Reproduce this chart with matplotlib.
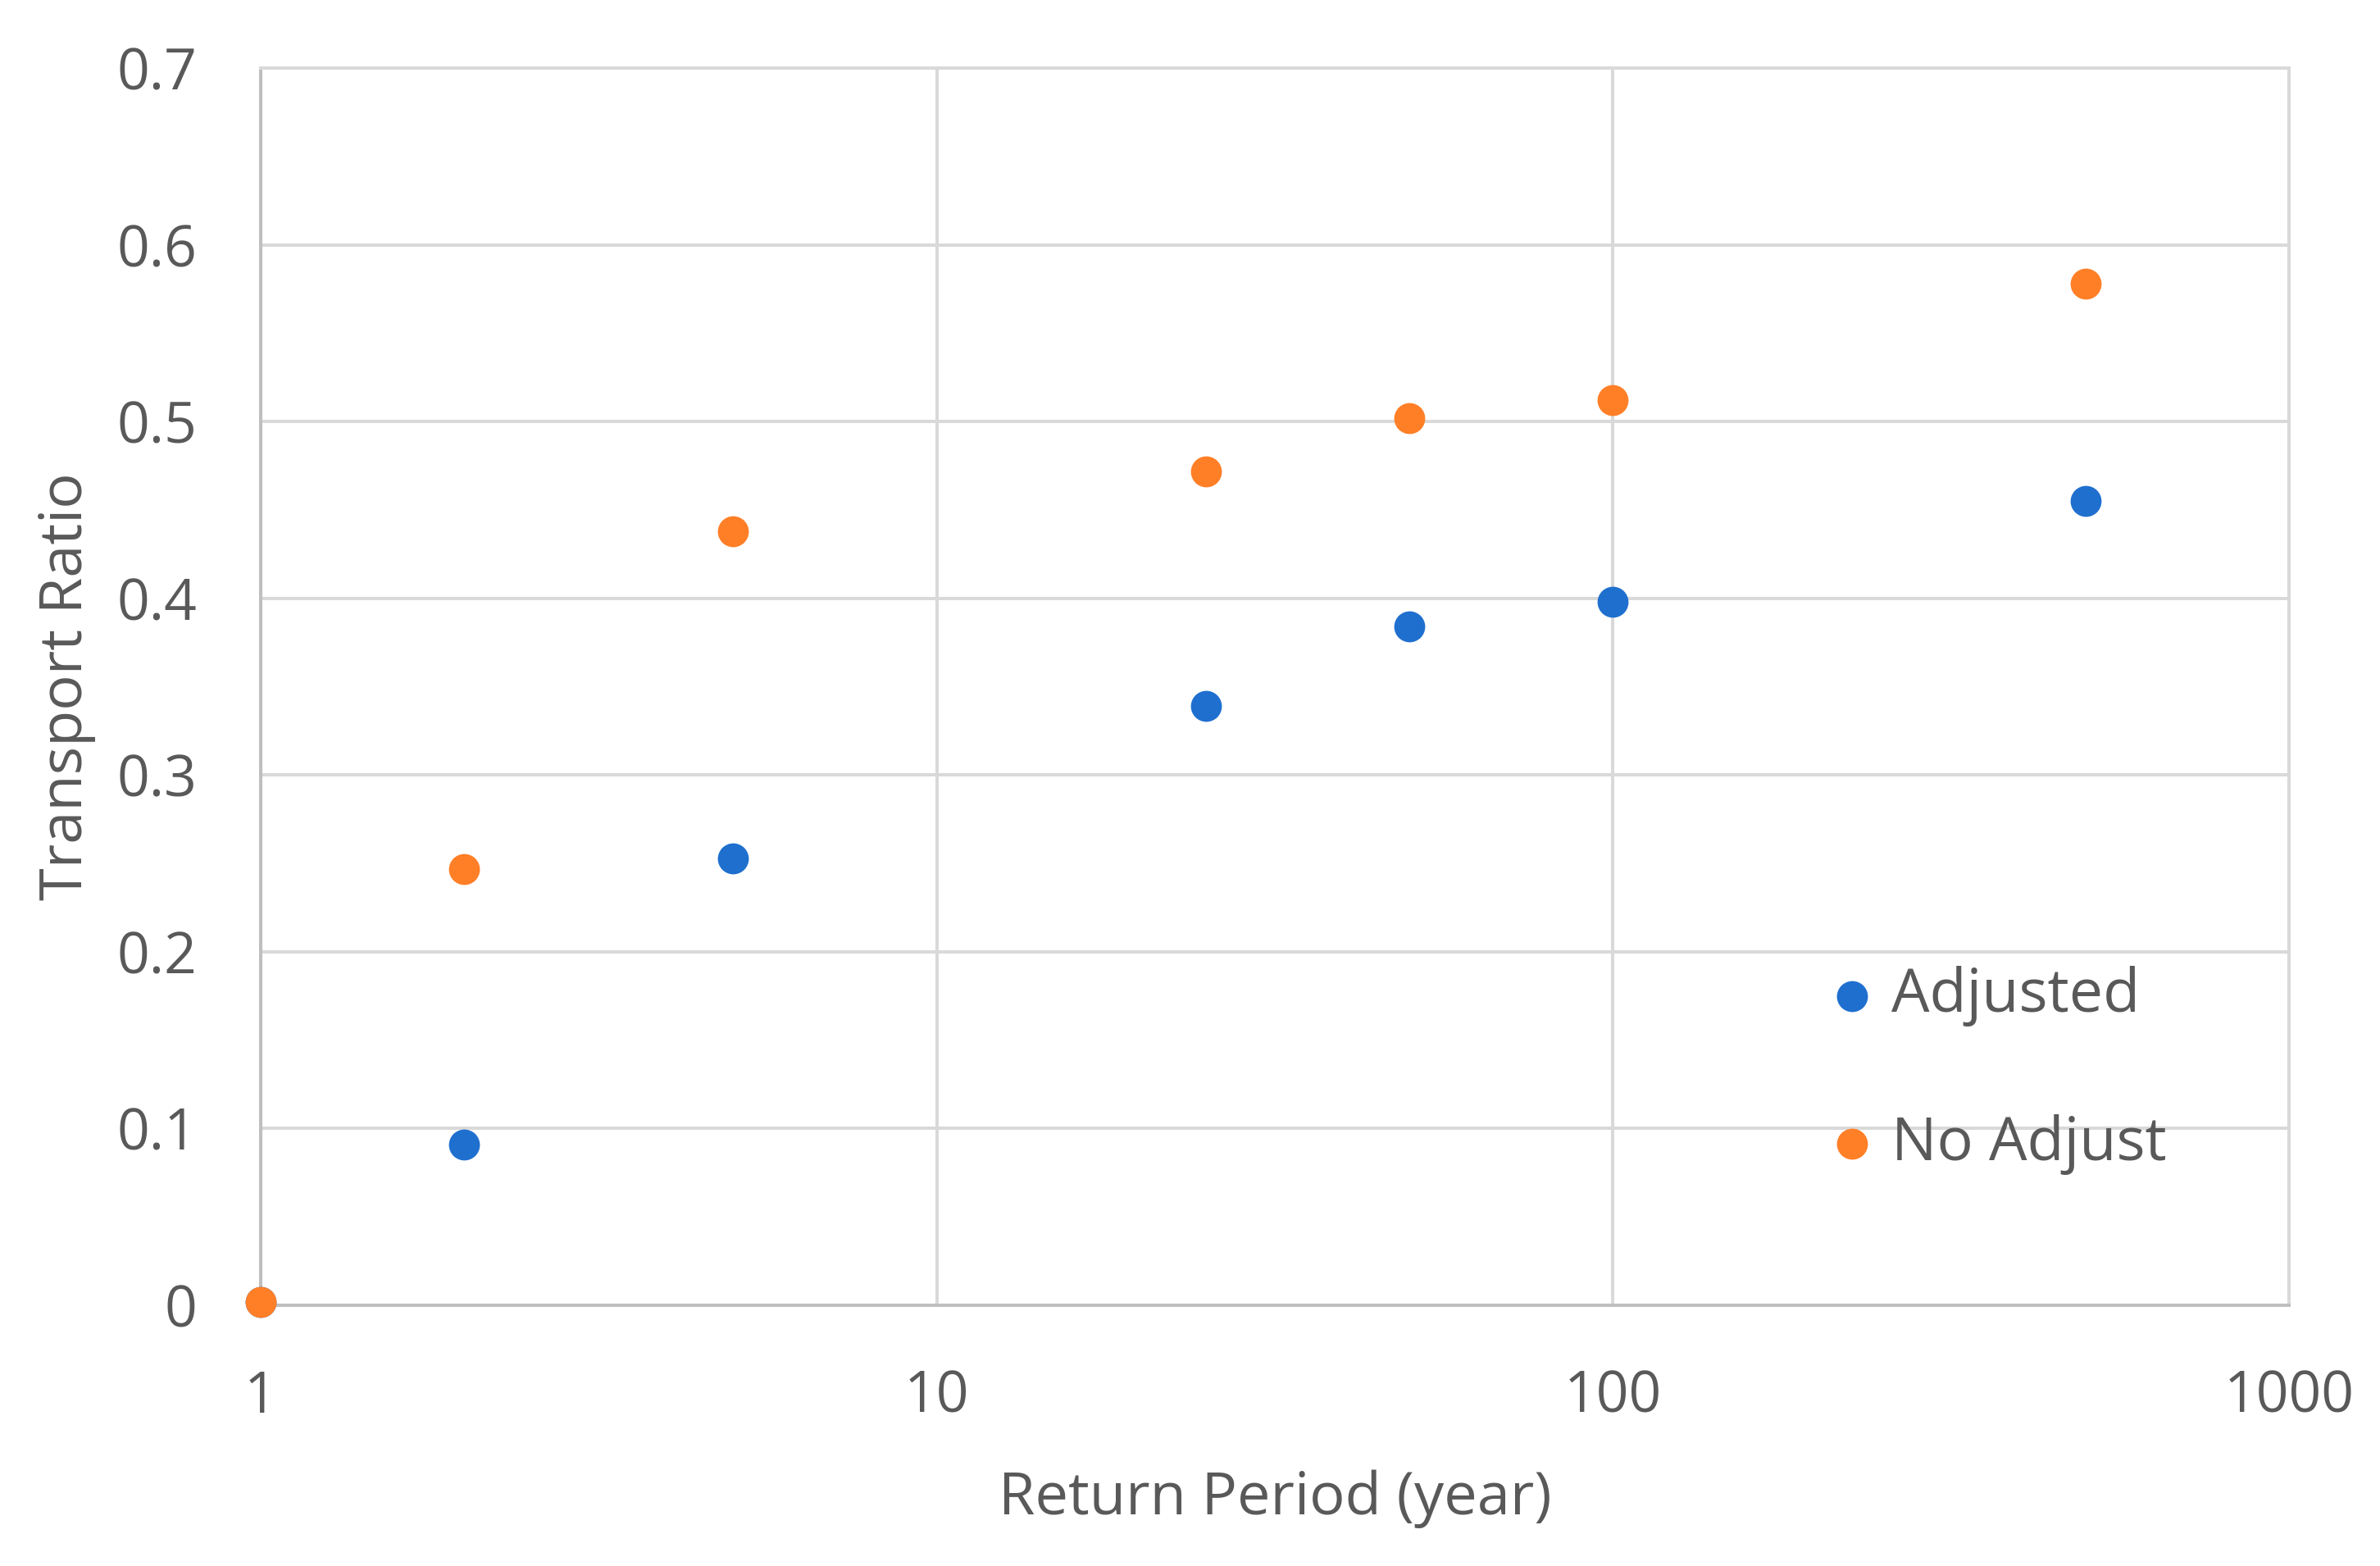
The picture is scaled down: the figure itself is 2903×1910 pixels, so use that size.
import matplotlib
matplotlib.use("Agg")
import matplotlib.pyplot as plt
from matplotlib.ticker import FixedLocator, FixedFormatter

plt.rcParams['font.family'] = ['Open Sans', 'DejaVu Sans']

# data
return_period = [1, 2, 5, 25, 50, 100, 500]
adjusted = [0.002, 0.091, 0.253, 0.339, 0.384, 0.398, 0.455]
no_adjust = [0.002, 0.247, 0.438, 0.472, 0.502, 0.512, 0.578]

x_ticks = [1, 10, 100, 1000]
x_tick_labels = ['1', '10', '100', '1000']
y_ticks = [0, 0.1, 0.2, 0.3, 0.4, 0.5, 0.6, 0.7]
y_tick_labels = ['0', '0.1', '0.2', '0.3', '0.4', '0.5', '0.6', '0.7']

text_color = '#595959'
grid_color = '#d9d9d9'
blue = '#1f6fcf'
orange = '#ff7f27'

fig = plt.figure(figsize=(29.03, 19.10), dpi=100)
ax = fig.add_axes([0.1095, 0.1665, 0.8523, 0.79])

ax.scatter(return_period, adjusted, s=740, color=blue, label='Adjusted',
           zorder=3, clip_on=False, linewidths=0)
ax.scatter(return_period, no_adjust, s=740, color=orange, label='No Adjust',
           zorder=4, clip_on=False, linewidths=0)

ax.set_xscale('log')
ax.set_xlim(1, 1000)
ax.set_ylim(0, 0.7)
ax.xaxis.set_major_locator(FixedLocator(x_ticks))
ax.xaxis.set_major_formatter(FixedFormatter(x_tick_labels))
ax.xaxis.set_minor_locator(FixedLocator([]))
ax.yaxis.set_major_locator(FixedLocator(y_ticks))
ax.yaxis.set_major_formatter(FixedFormatter(y_tick_labels))

ax.grid(True, color=grid_color, linewidth=2.9, zorder=0)
ax.set_axisbelow(True)
for side in ['top', 'right']:
    ax.spines[side].set_color(grid_color)
    ax.spines[side].set_linewidth(2.9)
for side in ['left', 'bottom']:
    ax.spines[side].set_color('#bfbfbf')
    ax.spines[side].set_linewidth(2.9)

ax.tick_params(axis='both', length=0, labelsize=50, labelcolor=text_color)
ax.tick_params(axis='y', pad=56)
ax.tick_params(axis='x', pad=56)

ax.set_xlabel('Return Period (year)', fontsize=52, color=text_color, labelpad=38)
ax.set_ylabel('Transport Ratio', fontsize=52, color=text_color, labelpad=18)

leg = ax.legend(loc='center left', bbox_to_anchor=(0.746, 0.19), frameon=False,
                fontsize=53, labelspacing=1.45, handlelength=0.8,
                handletextpad=0.25, markerscale=1.0, labelcolor=text_color)

fig.savefig('out.png', dpi=100)
